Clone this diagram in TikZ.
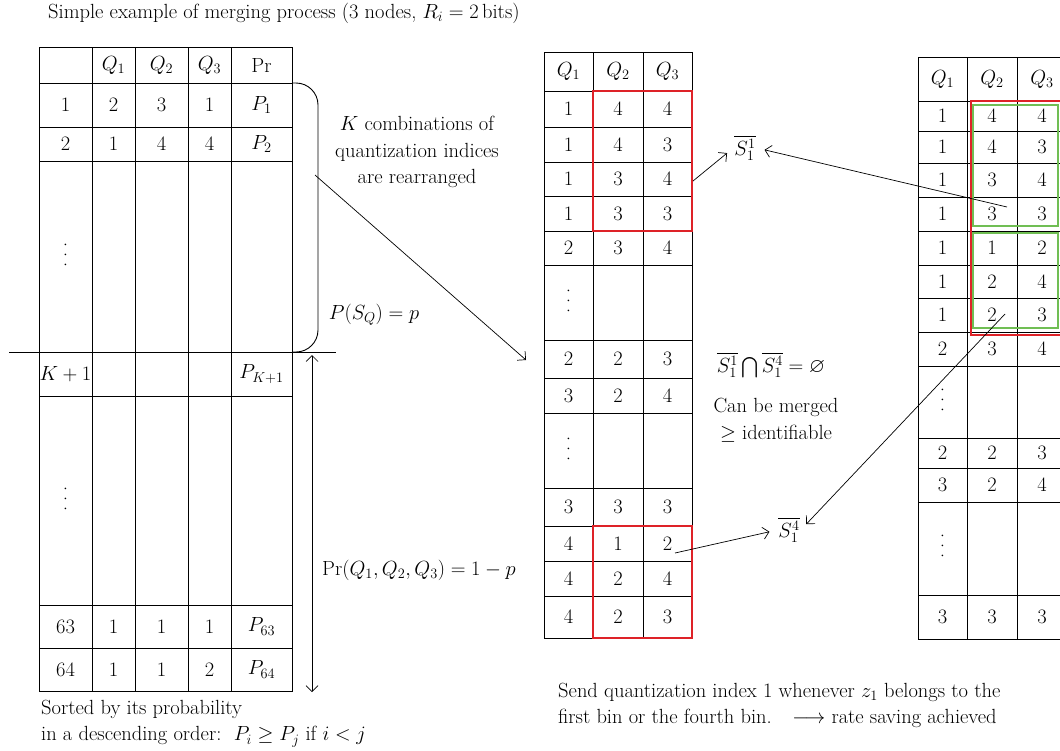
\RequirePackage{fix-cm}
\documentclass[tikz,border=0pt]{standalone}
\usepackage{amsmath,amssymb}
\usetikzlibrary{arrows.meta}
\definecolor{rouge}{RGB}{222,34,40}
\definecolor{vert}{RGB}{112,190,84}
\begin{document}
\begin{tikzpicture}[x=1pt,y=-1pt,font=\fontsize{20.5}{26.5}\selectfont]
			% Styles (MODIFIABLES)
			\tikzstyle{trait}=[line width=0.9pt]
			\tikzstyle{fleche}=[->,>={Straight Barb[length=6pt,width=12pt]},line width=0.7pt]
			\tikzstyle{renvoi}=[fleche,shorten >=8pt]
			\tikzstyle{cellule}=[inner sep=0pt]
			\tikzstyle{points}=[inner sep=0pt,rotate=90]
			\tikzstyle{commentaire}=[black,inner sep=1pt]
			\tikzstyle{cadrerouge}=[draw=rouge,line width=1.2pt]
			\tikzstyle{cadrevert}=[draw=vert,line width=1.2pt]
			\def\Points{.\hspace{5pt}.\hspace{5pt}.}
			% Dimensions (MODIFIABLES)
			\def\GaucheA{65.5}\def\GaucheB{113.5}\def\GaucheC{161.5}\def\GaucheD{209.5}\def\GaucheE{261.5}
			\def\MilieuA{568.5}\def\MilieuB{618}\def\MilieuC{667.5}
			\def\DroiteA{942.5}\def\DroiteB{992}\def\DroiteC{1042}
			\useasboundingbox (0,0) rectangle (1060,750);
			% Tableau de gauche
			\draw[trait] (39,47) rectangle (292,691);
			\draw[trait] (92,47)--(92,691) (135,47)--(135,691) (188,47)--(188,691) (231,47)--(231,691);
			\draw[trait] (39,83)--(292,83) (39,127)--(292,127) (39,161)--(292,161) (39,396)--(292,396)
			(39,605)--(292,605) (39,648)--(292,648);
			\draw[trait] (9,352)--(336,352);
			\node[cellule] (G0b) at ({\GaucheB},65) {$Q_1$};
			\node[cellule] (G0c) at ({\GaucheC},65) {$Q_2$};
			\node[cellule] (G0d) at ({\GaucheD},65) {$Q_3$};
			\node[cellule] (G0e) at ({\GaucheE},65) {Pr};
			\node[cellule] (G1a) at ({\GaucheA},105) {1}; \node[cellule] (G1b) at ({\GaucheB},105) {2};
			\node[cellule] (G1c) at ({\GaucheC},105) {3}; \node[cellule] (G1d) at ({\GaucheD},105) {1};
			\node[cellule] (G1e) at ({\GaucheE},105) {$P_1$};
			\node[cellule] (G2a) at ({\GaucheA},144) {2}; \node[cellule] (G2b) at ({\GaucheB},144) {1};
			\node[cellule] (G2c) at ({\GaucheC},144) {4}; \node[cellule] (G2d) at ({\GaucheD},144) {4};
			\node[cellule] (G2e) at ({\GaucheE},144) {$P_2$};
			\node[points] (Gp1) at ({\GaucheA},255) {\Points};
			\node[cellule] (GKa) at ({\GaucheA},374) {$K+1$};
			\node[cellule] (GKe) at ({\GaucheE},374) {$P_{K+1}$};
			\node[points] (Gp2) at ({\GaucheA},499) {\Points};
			\node[cellule] (G63a) at ({\GaucheA},626.5) {63}; \node[cellule] (G63b) at ({\GaucheB},626.5) {1};
			\node[cellule] (G63c) at ({\GaucheC},626.5) {1}; \node[cellule] (G63d) at ({\GaucheD},626.5) {1};
			\node[cellule] (G63e) at ({\GaucheE},626.5) {$P_{63}$};
			\node[cellule] (G64a) at ({\GaucheA},669.5) {64}; \node[cellule] (G64b) at ({\GaucheB},669.5) {1};
			\node[cellule] (G64c) at ({\GaucheC},669.5) {1}; \node[cellule] (G64d) at ({\GaucheD},669.5) {2};
			\node[cellule] (G64e) at ({\GaucheE},669.5) {$P_{64}$};
			% Accolade et commentaires de gauche
			\draw[trait,rounded corners=22pt] (292,83)--(318,83)--(318,352)--(292,352);
			\node[commentaire] (titre) at (47,13) [anchor=west] {Simple example of merging process (3 nodes, $R_i = 2\,$bits)};
			\node[commentaire,align=center] (combinaisons) at (417,152) {$K$ combinations of\\quantization indices\\are rearranged};
			\node[commentaire] (PSQ) at (374,315) {$P(S_Q) = p$};
			\node[commentaire] (PrQ) at (321,570) [anchor=west] {$\mathrm{Pr}(Q_1, Q_2, Q_3) = 1 - p$};
			\node[commentaire,align=left] (tri) at (40,723.5) [anchor=west] {Sorted by its probability\\in a descending order:\ \ $P_i \geq P_j$ if $i < j$};
			% Tableau du milieu
			\draw[trait] (544,52) rectangle (692,638);
			\draw[trait] (593,52)--(593,638) (643,52)--(643,638);
			\draw[trait] (544,91)--(692,91) (544,127)--(692,127) (544,162)--(692,162) (544,196)--(692,196)
			(544,231)--(692,231) (544,265)--(692,265) (544,340)--(692,340) (544,378)--(692,378)
			(544,413)--(692,413) (544,488)--(692,488) (544,526)--(692,526) (544,561)--(692,561)
			(544,596)--(692,596);
			\node[cellule] (M0a) at ({\MilieuA},71.5) {$Q_1$}; \node[cellule] (M0b) at ({\MilieuB},71.5) {$Q_2$}; \node[cellule] (M0c) at ({\MilieuC},71.5) {$Q_3$};
			\node[cellule] (M1a) at ({\MilieuA},109) {1}; \node[cellule] (M1b) at ({\MilieuB},109) {4}; \node[cellule] (M1c) at ({\MilieuC},109) {4};
			\node[cellule] (M2a) at ({\MilieuA},144.5) {1}; \node[cellule] (M2b) at ({\MilieuB},144.5) {4}; \node[cellule] (M2c) at ({\MilieuC},144.5) {3};
			\node[cellule] (M3a) at ({\MilieuA},179) {1}; \node[cellule] (M3b) at ({\MilieuB},179) {3}; \node[cellule] (M3c) at ({\MilieuC},179) {4};
			\node[cellule] (M4a) at ({\MilieuA},213.5) {1}; \node[cellule] (M4b) at ({\MilieuB},213.5) {3}; \node[cellule] (M4c) at ({\MilieuC},213.5) {3};
			\node[cellule] (M5a) at ({\MilieuA},248) {2}; \node[cellule] (M5b) at ({\MilieuB},248) {3}; \node[cellule] (M5c) at ({\MilieuC},248) {4};
			\node[points] (Mp1) at ({\MilieuA},301) {\Points};
			\node[cellule] (M6a) at ({\MilieuA},359) {2}; \node[cellule] (M6b) at ({\MilieuB},359) {2}; \node[cellule] (M6c) at ({\MilieuC},359) {3};
			\node[cellule] (M7a) at ({\MilieuA},395.5) {3}; \node[cellule] (M7b) at ({\MilieuB},395.5) {2}; \node[cellule] (M7c) at ({\MilieuC},395.5) {4};
			\node[points] (Mp2) at ({\MilieuA},449) {\Points};
			\node[cellule] (M8a) at ({\MilieuA},507) {3}; \node[cellule] (M8b) at ({\MilieuB},507) {3}; \node[cellule] (M8c) at ({\MilieuC},507) {3};
			\node[cellule] (M9a) at ({\MilieuA},543.5) {4}; \node[cellule] (M9b) at ({\MilieuB},543.5) {1}; \node[cellule] (M9c) at ({\MilieuC},543.5) {2};
			\node[cellule] (M10a) at ({\MilieuA},578.5) {4}; \node[cellule] (M10b) at ({\MilieuB},578.5) {2}; \node[cellule] (M10c) at ({\MilieuC},578.5) {4};
			\node[cellule] (M11a) at ({\MilieuA},617) {4}; \node[cellule] (M11b) at ({\MilieuB},617) {2}; \node[cellule] (M11c) at ({\MilieuC},617) {3};
			\draw[cadrerouge] (593,91) rectangle (692,231);
			\draw[cadrerouge] (593,526) rectangle (692,638);
			% Tableau de droite
			\draw[trait] (918,57) rectangle (1067,639);
			\draw[trait] (967,57)--(967,639) (1017,57)--(1017,639);
			\draw[trait] (918,101)--(1067,101) (918,131)--(1067,131) (918,163)--(1067,163) (918,197)--(1067,197)
			(918,231)--(1067,231) (918,265)--(1067,265) (918,298)--(1067,298) (918,332)--(1067,332)
			(918,366)--(1067,366) (918,438)--(1067,438) (918,468)--(1067,468) (918,502)--(1067,502)
			(918,595)--(1067,595);
			\node[cellule] (D0a) at ({\DroiteA},79) {$Q_1$}; \node[cellule] (D0b) at ({\DroiteB},79) {$Q_2$}; \node[cellule] (D0c) at ({\DroiteC},79) {$Q_3$};
			\node[cellule] (D1a) at ({\DroiteA},116) {1}; \node[cellule] (D1b) at ({\DroiteB},116) {4}; \node[cellule] (D1c) at ({\DroiteC},116) {4};
			\node[cellule] (D2a) at ({\DroiteA},147) {1}; \node[cellule] (D2b) at ({\DroiteB},147) {4}; \node[cellule] (D2c) at ({\DroiteC},147) {3};
			\node[cellule] (D3a) at ({\DroiteA},180) {1}; \node[cellule] (D3b) at ({\DroiteB},180) {3}; \node[cellule] (D3c) at ({\DroiteC},180) {4};
			\node[cellule] (D4a) at ({\DroiteA},214) {1}; \node[cellule] (D4b) at ({\DroiteB},214) {3}; \node[cellule] (D4c) at ({\DroiteC},214) {3};
			\node[cellule] (D5a) at ({\DroiteA},248) {1}; \node[cellule] (D5b) at ({\DroiteB},248) {1}; \node[cellule] (D5c) at ({\DroiteC},248) {2};
			\node[cellule] (D6a) at ({\DroiteA},281.5) {1}; \node[cellule] (D6b) at ({\DroiteB},281.5) {2}; \node[cellule] (D6c) at ({\DroiteC},281.5) {4};
			\node[cellule] (D7a) at ({\DroiteA},315) {1}; \node[cellule] (D7b) at ({\DroiteB},315) {2}; \node[cellule] (D7c) at ({\DroiteC},315) {3};
			\node[cellule] (D8a) at ({\DroiteA},349) {2}; \node[cellule] (D8b) at ({\DroiteB},349) {3}; \node[cellule] (D8c) at ({\DroiteC},349) {4};
			\node[points] (Dp1) at ({\DroiteA},400) {\Points};
			\node[cellule] (D9a) at ({\DroiteA},453) {2}; \node[cellule] (D9b) at ({\DroiteB},453) {2}; \node[cellule] (D9c) at ({\DroiteC},453) {3};
			\node[cellule] (D10a) at ({\DroiteA},485) {3}; \node[cellule] (D10b) at ({\DroiteB},485) {2}; \node[cellule] (D10c) at ({\DroiteC},485) {4};
			\node[points] (Dp2) at ({\DroiteA},546) {\Points};
			\node[cellule] (D11a) at ({\DroiteA},617) {3}; \node[cellule] (D11b) at ({\DroiteB},617) {3}; \node[cellule] (D11c) at ({\DroiteC},617) {3};
			\draw[cadrerouge] (971,101) rectangle (1061,335);
			\draw[cadrevert] (973,105) rectangle (1058,226);
			\draw[cadrevert] (973,233) rectangle (1058,328);
			% Commentaires de droite
			\node[commentaire] (S11) at (745,148) {$\overline{S_1^1}$};
			\node[commentaire] (S14) at (789,530) {$\overline{S_1^4}$};
			\node[commentaire] (inter) at (771,365) {$\overline{S_1^1}\bigcap\overline{S_1^4} = \varnothing$};
			\node[commentaire,align=center] (fusion) at (776,420) {Can be merged\\$\geq$ identifiable};
			\node[commentaire,align=left] (envoi) at (557,705.5) [anchor=west] {Send quantization index 1 whenever $z_1$ belongs to the\\first bin or the fourth bin.\quad $\longrightarrow$ rate saving achieved};
			% Extremites des fleches
			\coordinate (accolade) at (315,175);
			\coordinate (entree) at (526,360);
			\coordinate (haut) at (312,355);
			\coordinate (bas) at (312,692);
			\coordinate (M1) at (693,181);
			\coordinate (R1) at (1007,207);
			\coordinate (M2) at (675,553);
			\coordinate (R2) at (1005,314);
			% Fleches (MODIFIABLES : Styles)
			\draw[fleche] (accolade)--(entree);
			\draw[fleche,<->] (haut)--(bas);
			\draw[renvoi] (M1)--(S11.west);
			\draw[renvoi] (R1)--(S11.east);
			\draw[renvoi] (M2)--(S14.west);
			\draw[renvoi] (R2)--(S14.east);
		\end{tikzpicture}
\end{document}
